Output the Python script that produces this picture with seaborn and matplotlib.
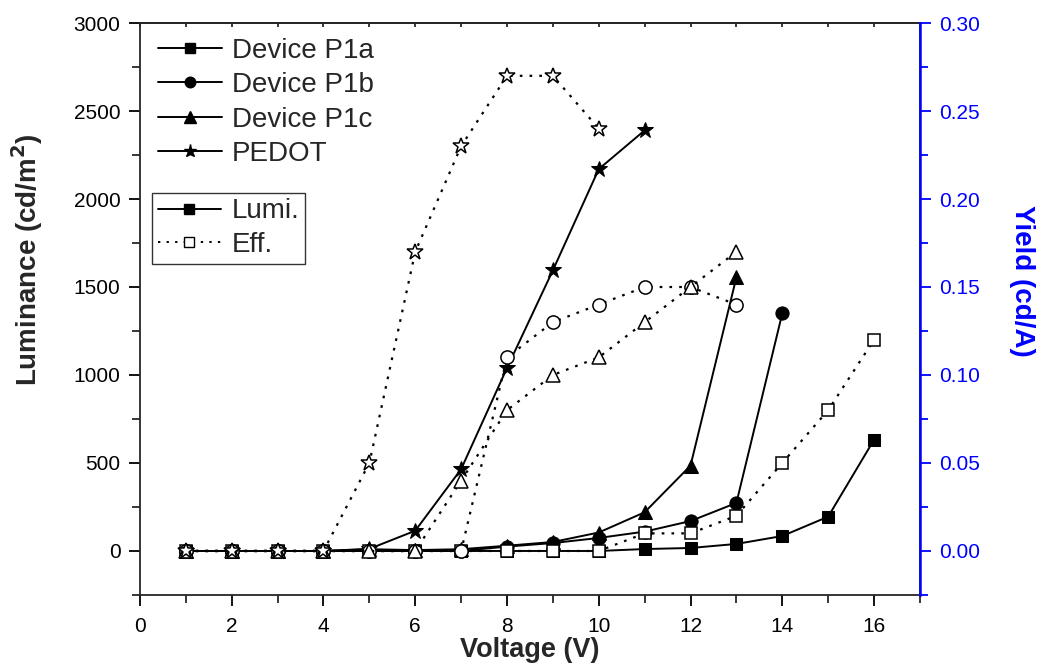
import numpy as np
import pandas as pd
import matplotlib
matplotlib.use("Agg")
import matplotlib.pyplot as plt
from matplotlib.lines import Line2D
from matplotlib.ticker import MultipleLocator, FormatStrFormatter
import seaborn as sns

# Luminance (cd/m^2) versus drive voltage
v_p1a = [1, 2, 3, 4, 5, 6, 7, 8, 9, 10, 11, 12, 13, 14, 15, 16]
lum_p1a = [0, 0, 0, 0, 0, 0, 0, 0, 0, 0, 11, 17, 40, 85, 195, 632]
v_p1b_lum = [1, 2, 3, 4, 5, 6, 7, 8, 9, 10, 11, 12, 13, 14]
lum_p1b = [0, 0, 0, 0, 0, 0, 0, 25, 45, 74, 110, 170, 273, 1350]
v_p1c = [1, 2, 3, 4, 5, 6, 7, 8, 9, 10, 11, 12, 13]
lum_p1c = [0, 0, 0, 0, 10, 5, 10, 30, 51, 105, 220, 485, 1555]
v_pedot_lum = [1, 2, 3, 4, 5, 6, 7, 8, 9, 10, 11]
lum_pedot = [0, 0, 0, 0, 12, 115, 465, 1040, 1595, 2170, 2390]

# Current efficiency (cd/A) versus drive voltage
eff_p1a = [0, 0, 0, 0, 0, 0, 0, 0, 0, 0, 0.010, 0.010, 0.020, 0.050, 0.080, 0.120]
v_p1b_eff = [1, 2, 3, 4, 5, 6, 7, 8, 9, 10, 11, 12, 13]
eff_p1b = [0, 0, 0, 0, 0, 0, 0, 0.110, 0.130, 0.140, 0.150, 0.150, 0.140]
eff_p1c = [0, 0, 0, 0, 0, 0, 0.040, 0.080, 0.100, 0.110, 0.130, 0.150, 0.170]
v_pedot_eff = [1, 2, 3, 4, 5, 6, 7, 8, 9, 10]
eff_pedot = [0, 0, 0, 0, 0.050, 0.170, 0.230, 0.270, 0.270, 0.240]

device_names = ["Device P1a", "Device P1b", "Device P1c", "PEDOT"]
type_names = ["Lumi.", "Eff."]

sns.set_theme(style="ticks")
plt.rcParams["font.family"] = ["Liberation Sans", "DejaVu Sans"]
plt.rcParams["axes.linewidth"] = 1.3

BLUE = "#0000ff"
DOTS = (0, (1.2, 3.2))
markers = {"Device P1a": "s", "Device P1b": "o", "Device P1c": "^", "PEDOT": "*"}
msizes = {"Device P1a": 9, "Device P1b": 9.5, "Device P1c": 10, "PEDOT": 12}

fig = plt.figure(figsize=(10.43, 6.71), dpi=100)
ax = fig.add_axes([0.1342, 0.1133, 0.7478, 0.8524])
ax2 = ax.twinx()

lum_sets = [
    ("Device P1a", v_p1a, lum_p1a),
    ("Device P1b", v_p1b_lum, lum_p1b),
    ("Device P1c", v_p1c, lum_p1c),
    ("PEDOT", v_pedot_lum, lum_pedot),
]
eff_sets = [
    ("Device P1a", v_p1a, eff_p1a),
    ("Device P1b", v_p1b_eff, eff_p1b),
    ("Device P1c", v_p1c, eff_p1c),
    ("PEDOT", v_pedot_eff, eff_pedot),
]

solid_kw = dict(color="black", linewidth=1.4, linestyle="-",
                markeredgecolor="black", markerfacecolor="black")
dotted_kw = dict(color="black", linewidth=1.6, linestyle=DOTS,
                 markeredgecolor="black", markerfacecolor="white",
                 markeredgewidth=1.1)

for name, v, y in lum_sets:
    df = pd.DataFrame({"Voltage": v, "Luminance": y})
    sns.lineplot(data=df, x="Voltage", y="Luminance", ax=ax, marker=markers[name],
                 markersize=msizes[name], estimator=None, sort=False, **solid_kw)

for name, v, y in eff_sets:
    df = pd.DataFrame({"Voltage": v, "Yield": y})
    sns.lineplot(data=df, x="Voltage", y="Yield", ax=ax2, marker=markers[name],
                 markersize=msizes[name], estimator=None, sort=False, **dotted_kw)

# Axis ranges and ticks
ax.set_xlim(0, 17)
ax.set_ylim(-250, 3000)
ax2.set_ylim(-0.025, 0.30)

ax.xaxis.set_major_locator(MultipleLocator(2))
ax.xaxis.set_minor_locator(MultipleLocator(1))
ax.yaxis.set_major_locator(MultipleLocator(500))
ax.yaxis.set_minor_locator(MultipleLocator(250))
ax2.yaxis.set_major_locator(MultipleLocator(0.05))
ax2.yaxis.set_minor_locator(MultipleLocator(0.025))
ax2.yaxis.set_major_formatter(FormatStrFormatter("%.2f"))

ax.tick_params(axis="both", which="major", direction="out", length=8, width=1.3,
               labelsize=15, pad=6, colors="black")
ax.tick_params(axis="both", which="minor", direction="out", length=6, width=1.3)
ax.tick_params(axis="x", which="major", pad=8)
ax.tick_params(axis="x", which="both", top=False)

ax2.tick_params(axis="y", which="major", direction="out", length=8, width=1.3,
                labelsize=15, pad=6, colors=BLUE)
ax2.tick_params(axis="y", which="minor", direction="out", length=6, width=1.3,
                colors=BLUE)
ax2.spines["right"].set_color(BLUE)
ax2.spines["right"].set_linewidth(1.8)
for s in ["left", "top", "bottom"]:
    ax2.spines[s].set_visible(False)

# Top spine carries short inward ticks
secx = ax.secondary_xaxis("top")
secx.xaxis.set_major_locator(MultipleLocator(2))
secx.xaxis.set_minor_locator(MultipleLocator(1))
secx.tick_params(axis="x", which="both", direction="in", length=3, width=1.3,
                 labeltop=False)

ax.set_xlabel("Voltage (V)", fontsize=19.5, fontweight="bold", ha="center", va="center")
ax.set_ylabel("Luminance (cd/m$^\\mathbf{2}$)", fontsize=20, fontweight="bold",
              ha="center", va="center")
ax2.set_ylabel("Yield (cd/A)", fontsize=20, fontweight="bold", color=BLUE,
               rotation=270, ha="center", va="center")
ax.xaxis.set_label_coords(0.5, -0.096)
ax.yaxis.set_label_coords(-0.145, 0.586)
ax2.yaxis.set_label_coords(1.131, 0.549)

# Legend of devices (marker shapes)
dev_handles = [
    Line2D([], [], color="black", linewidth=1.4, marker=markers[n],
           markersize=msizes[n] * 0.8, markerfacecolor="black",
           markeredgecolor="black")
    for n in device_names
]
leg1 = ax2.legend(dev_handles, device_names, loc="upper left",
                  bbox_to_anchor=(0.023, 0.974), frameon=False, fontsize=20,
                  handlelength=2.3, handletextpad=0.36, labelspacing=0.3,
                  borderpad=0.0, borderaxespad=0.0, numpoints=1)
ax2.add_artist(leg1)

# Legend of curve types (line style and fill)
type_handles = [
    Line2D([], [], color="black", linewidth=1.4, linestyle="-", marker="s",
           markersize=7, markerfacecolor="black", markeredgecolor="black"),
    Line2D([], [], color="black", linewidth=1.4, linestyle=DOTS,
           marker="s", markersize=7, markerfacecolor="white",
           markeredgecolor="black"),
]
leg2 = ax2.legend(type_handles, type_names, loc="upper left",
                  bbox_to_anchor=(0.0154, 0.703), frameon=True, fontsize=20,
                  handlelength=2.3, handletextpad=0.36, labelspacing=0.28,
                  borderpad=0.2, borderaxespad=0.0, fancybox=False,
                  edgecolor="black", numpoints=1)
leg2.get_frame().set_linewidth(1.0)

fig.savefig("out.png", dpi=100)
